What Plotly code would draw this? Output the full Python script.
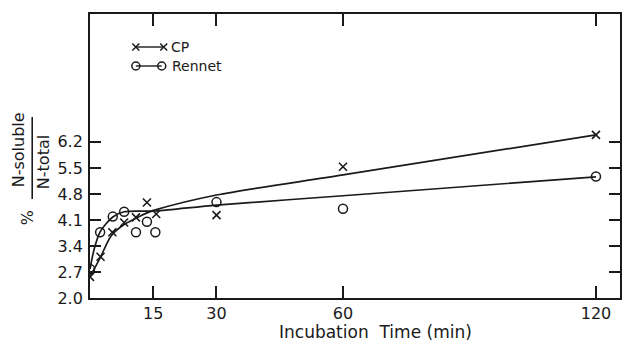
import plotly.graph_objects as go

# Measured points: soluble nitrogen as % of total nitrogen vs incubation time (min)
time_cp = [0, 2.5, 5.3, 8.1, 10.9, 13.5, 15.7, 30, 60, 120]
cp_values = [2.57, 3.11, 3.77, 4.03, 4.17, 4.57, 4.26, 4.23, 5.53, 6.39]

time_rennet = [0, 2.4, 5.4, 8.1, 10.9, 13.5, 15.5, 30, 60, 120]
rennet_values = [2.78, 3.77, 4.19, 4.32, 3.77, 4.05, 3.77, 4.58, 4.40, 5.27]

# Hand-fitted trend curves drawn through the points
fit_time_cp = [0, 2.5, 5, 8, 11, 13.5, 15.5, 30, 60, 120]
fit_cp = [2.57, 3.10, 3.67, 3.97, 4.15, 4.29, 4.37, 4.77, 5.31, 6.39]

fit_time_rennet = [0, 1, 2.4, 5.4, 8.1, 15.5, 30, 60, 120]
fit_rennet = [2.78, 3.32, 3.78, 4.18, 4.32, 4.34, 4.50, 4.75, 5.26]

x_ticks = [15, 30, 60, 120]
y_ticks = [2.0, 2.7, 3.4, 4.1, 4.8, 5.5, 6.2]
y_tick_text = ["2.0", "2.7", "3.4", "4.1", "4.8", "5.5", "6.2"]

FONT = "DejaVu Sans"
INK = "#1a1a1a"

W, H = 623, 347
L, R, T, B = 90, 1, 14, 49
PW, PH = W - L - R, H - T - B


def px_x(x):
    return (x - L) / PW


def px_y(y):
    return (H - B - y) / PH


fig = go.Figure()

fig.add_trace(go.Scatter(x=fit_time_cp, y=fit_cp, mode="lines",
                         line=dict(color=INK, width=1.7, shape="spline", smoothing=0.8),
                         hoverinfo="skip"))
fig.add_trace(go.Scatter(x=fit_time_rennet, y=fit_rennet, mode="lines",
                         line=dict(color=INK, width=1.7, shape="spline", smoothing=0.8),
                         hoverinfo="skip"))
fig.add_trace(go.Scatter(x=time_cp, y=cp_values, mode="markers", name="CP",
                         marker=dict(symbol="x-thin-open", size=8, color=INK,
                                     line=dict(color=INK, width=1.6))))
fig.add_trace(go.Scatter(x=time_rennet, y=rennet_values, mode="markers", name="Rennet",
                         marker=dict(symbol="circle-open", size=9, color=INK,
                                     line=dict(color=INK, width=1.5))))

# Legend keys on a pixel-scaled overlay axis covering the plot area
fig.add_trace(go.Scatter(x=[136, 164], y=[47, 47], mode="lines+markers",
                         xaxis="x2", yaxis="y2",
                         line=dict(color=INK, width=1.4),
                         marker=dict(symbol="x-thin-open", size=7, color=INK,
                                     line=dict(color=INK, width=1.5)),
                         hoverinfo="skip"))
fig.add_trace(go.Scatter(x=[136, 162], y=[66, 66], mode="lines+markers",
                         xaxis="x2", yaxis="y2",
                         line=dict(color=INK, width=1.4),
                         marker=dict(symbol="circle-open", size=8, color=INK,
                                     line=dict(color=INK, width=1.5)),
                         hoverinfo="skip"))

axis_common = dict(showgrid=False, zeroline=False, showline=True, linecolor=INK,
                   linewidth=1.8, ticks="inside", tickcolor=INK, tickwidth=1.6,
                   mirror="ticks", tickfont=dict(family=FONT, size=16, color=INK))

fig.update_layout(
    width=W, height=H,
    margin=dict(l=L, r=R, t=T, b=B),
    paper_bgcolor="white", plot_bgcolor="white",
    showlegend=False,
    xaxis=dict(range=[0, 125.7], tickvals=x_ticks, ticklen=12, **axis_common),
    yaxis=dict(range=[2.0, 9.64], tickvals=y_ticks, ticktext=y_tick_text,
               ticklen=11, ticklabelstandoff=2, **axis_common),
    xaxis2=dict(range=[L, W - R], overlaying="x", visible=False, fixedrange=True),
    yaxis2=dict(range=[H - B, T], overlaying="y", visible=False, fixedrange=True),
)

annotations = [
    dict(text="CP", x=px_x(169), y=px_y(47), xanchor="left", yanchor="middle",
         font=dict(size=14, family=FONT, color=INK)),
    dict(text="Rennet", x=px_x(170), y=px_y(66), xanchor="left", yanchor="middle",
         font=dict(size=14, family=FONT, color=INK)),
    dict(text="Incubation  Time (min)", x=px_x(377), y=px_y(332),
         xanchor="center", yanchor="middle",
         font=dict(size=17, family=FONT, color=INK)),
    dict(text="N-soluble", x=px_x(18), y=px_y(150), textangle=-90,
         xanchor="center", yanchor="middle",
         font=dict(size=16, family=FONT, color=INK)),
    dict(text="N-total", x=px_x(43), y=px_y(162), textangle=-90,
         xanchor="center", yanchor="middle",
         font=dict(size=16, family=FONT, color=INK)),
    dict(text="%", x=px_x(28), y=px_y(218), textangle=-90,
         xanchor="center", yanchor="middle",
         font=dict(size=16, family=FONT, color=INK)),
]
for a in annotations:
    a.update(xref="paper", yref="paper", showarrow=False)
fig.update_layout(annotations=annotations)

# Fraction bar between numerator and denominator of the y-axis title
fig.add_shape(type="line", xref="paper", yref="paper",
              x0=px_x(32), x1=px_x(32), y0=px_y(117), y1=px_y(199),
              line=dict(color=INK, width=1.6))

fig.write_html("out.html")
